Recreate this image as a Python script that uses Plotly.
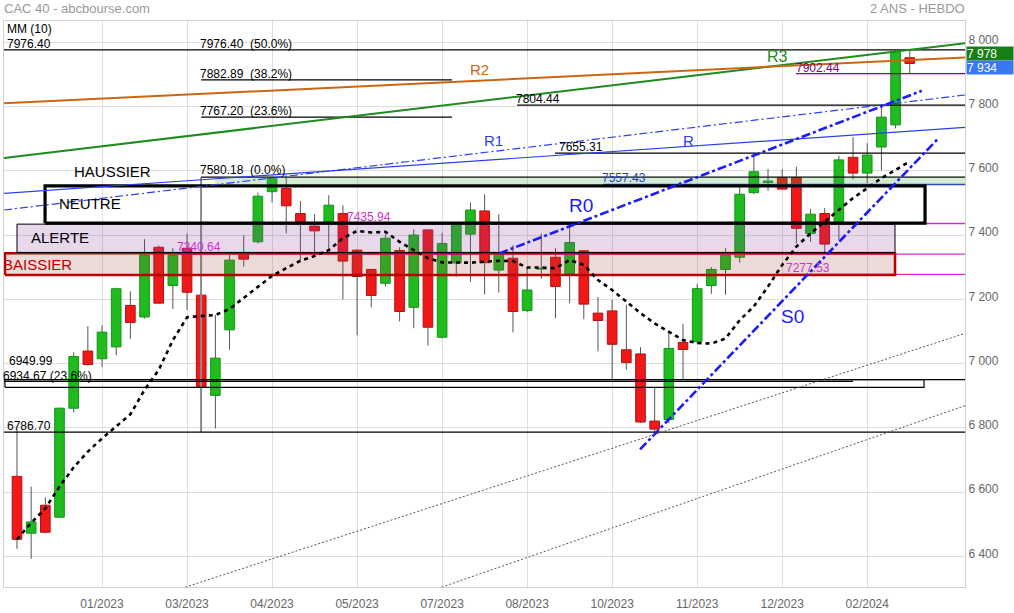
import plotly.graph_objects as go

# ---------------- data ----------------
week_index = list(range(64))
x_tick_weeks = [6, 12, 18, 24, 30, 36, 42, 48, 54, 60]
x_tick_labels = ["01/2023", "03/2023", "04/2023", "05/2023", "07/2023",
                 "08/2023", "10/2023", "11/2023", "12/2023", "02/2024"]
y_ticks = [6400, 6600, 6800, 7000, 7200, 7400, 7600, 7800, 8000]

opens = [6649, 6472, 6559, 6522, 6861, 7039, 7015, 7052, 7181, 7145,
         7362, 7243, 7359, 7213, 6901, 7105, 7341, 7379, 7535, 7545,
         7467, 7428, 7438, 7467, 7353, 7293, 7250, 7352, 7175, 7416,
         7082, 7313, 7403, 7475, 7291, 7328, 7165, 7294, 7331, 7279,
         7351, 7157, 7164, 7043, 7030, 6821, 6826, 7066, 7068, 7243,
         7293, 7331, 7532, 7564, 7579, 7579, 7405, 7467, 7438, 7642,
         7593, 7674, 7743, 7952]
highs = [6795, 6617, 6583, 6863, 7035, 7116, 7119, 7236, 7225, 7387,
         7367, 7359, 7405, 7219, 7151, 7338, 7400, 7532, 7580.18, 7578,
         7506, 7465, 7524, 7493, 7356, 7295, 7402, 7362, 7418, 7418,
         7407, 7437, 7501, 7527, 7465, 7369, 7300, 7405, 7359, 7431,
         7353, 7207, 7198, 7183, 7051, 6926, 7096, 7123, 7247, 7300,
         7359, 7550, 7655.31, 7606, 7605, 7613, 7481, 7484, 7647, 7705,
         7686, 7804.44, 7976.40, 7978]
lows = [6423, 6392, 6471, 6520, 6848, 6993, 6990, 7026, 7077, 7140,
        7186, 7170, 7167, 6864, 6798, 7043, 7302, 7374, 7502, 7405,
        7322, 7338, 7353, 7200, 7088, 7175, 7240, 7131, 7110, 7056,
        7078, 7270, 7254, 7215, 7221, 7097, 7160, 7264, 7141, 7188,
        7138, 7038, 6952, 6981, 6815, 6780, 6814, 6951, 7060, 7217,
        7214, 7314, 7527, 7538, 7541, 7374, 7379, 7343, 7385, 7574,
        7562, 7601, 7732, 7902.44]
closes = [6453, 6507, 6475, 6861, 7022, 6997, 7098, 7233, 7128, 7338,
          7188, 7338, 7222, 6928, 7017, 7322, 7325, 7521, 7578, 7491,
          7441, 7413, 7493, 7319, 7271, 7212, 7390, 7162, 7400, 7113,
          7374, 7434, 7478, 7314, 7343, 7162, 7229, 7297, 7240, 7377,
          7185, 7134, 7060, 7003, 6818, 6796, 7047, 7044, 7233, 7293,
          7338, 7527, 7597, 7568, 7543, 7421, 7465, 7372, 7634, 7593,
          7649, 7767, 7971, 7934]
ma10 = [6453, 6504, 6549, 6617, 6677, 6726, 6767, 6803, 6842, 6918,
        6980, 7073, 7144, 7148, 7151, 7170, 7205, 7240, 7273, 7297,
        7320, 7335, 7353, 7390, 7413, 7408, 7410, 7379, 7353, 7328,
        7315, 7315, 7314, 7317, 7320, 7319, 7299, 7299, 7297, 7322,
        7307, 7260, 7229, 7193, 7157, 7125, 7099, 7073, 7064, 7062,
        7078, 7135, 7178, 7240, 7307, 7364, 7405, 7441, 7479, 7515,
        7546, 7577, 7603, 7629]

# horizontal levels: value, first week, last week
level_values = [7976.40, 7882.89, 7767.20, 7580.18, 7557.43, 7804.44, 7655.31,
                7902.44, 7435.94, 7340.64, 7277.53, 6949.99, 6944.67, 6786.70]
level_start = [-0.92, 12.99, 12.99, 12.99, 41.36, 35.29, 37.97,
               54.98, 23.36, 11.36, 54.06, -0.92, -0.92, -0.92]
level_end = [66.9, 30.7, 30.7, 66.9, 66.9, 66.9, 66.9,
             66.9, 66.9, 66.9, 66.9, 66.9, 59.0, 66.9]

# zones
zone_names = ["BAISSIER", "ALERTE", "NEUTRE", "HAUSSIER", "FIBO"]
zone_low = [7276, 7346, 7437, 7557.43, 6926]
zone_high = [7343, 7434, 7553, 7580.18, 6949.99]
zone_start = [-0.85, 0.0, 1.98, 13.97, -0.85]
zone_end = [61.96, 61.96, 64.08, 66.9, 64.01]

# trend lines: (week, value) endpoints
trend_names = ["R3", "R2", "R1", "R1b", "R0", "S0", "T1", "T2"]
trend_w0 = [-0.92, -0.92, -0.92, -0.92, 34.04, 43.97, 11.6, 29.7]
trend_v0 = [7640, 7810, 7530, 7478, 7343, 6733, 6300, 6300]
trend_w1 = [66.9, 66.9, 66.9, 66.9, 63.85, 65.02, 66.9, 66.9]
trend_v1 = [7997, 7953, 7735, 7836, 7849, 7701, 7094, 6869]

fib_anchor_week = 12.99
fib_anchor_top = 7580.18
fib_anchor_bottom = 6786.70

last_high = 7978
last_close = 7934

FONT = "Arial, Liberation Sans, sans-serif"

fig = go.Figure()

# candle bodies
bases, heights, fills, edges = [], [], [], []
for o, c in zip(opens, closes):
    bases.append(min(o, c))
    heights.append(max(abs(c - o), 3))
    if c >= o:
        fills.append("#1fbb1f")
        edges.append("#159515")
    else:
        fills.append("#f01818")
        edges.append("#b51010")
fig.add_trace(go.Bar(x=week_index, y=heights, base=bases, width=0.68,
                     marker=dict(color=fills, line=dict(color=edges, width=1)),
                     hoverinfo="skip"))

# wicks
wx, wy = [], []
for i, o, h, l, c in zip(week_index, opens, highs, lows, closes):
    top, bot = max(o, c), min(o, c)
    if h > top:
        wx += [i, i, None]
        wy += [top, h, None]
    if l < bot:
        wx += [i, i, None]
        wy += [l, bot, None]
fig.add_trace(go.Scatter(x=wx, y=wy, mode="lines",
                         line=dict(color="#555555", width=1), hoverinfo="skip"))

# fib anchor vertical
fig.add_trace(go.Scatter(x=[fib_anchor_week, fib_anchor_week],
                         y=[fib_anchor_bottom, fib_anchor_top], mode="lines",
                         line=dict(color="#8a8a8a", width=2), hoverinfo="skip"))

# level lines
level_colors = ["#000000", "#000000", "#000000", "#000000", "#2a3fd0", "#000000", "#000000",
                "#800080", "#cc33cc", "#cc33cc", "#cc33cc", "#000000", "#000000", "#000000"]
for v, s, e, col in zip(level_values, level_start, level_end, level_colors):
    fig.add_trace(go.Scatter(x=[s, e], y=[v, v], mode="lines",
                             line=dict(color=col, width=1.3), hoverinfo="skip"))

# zones
zone_fill = ["rgba(160,70,60,0.2)", "rgba(140,60,160,0.2)", "rgba(0,0,0,0)",
             "rgba(60,160,60,0.22)", "rgba(0,0,0,0)"]
zone_line = ["#bb0000", "#000000", "#000000", "rgba(0,0,0,0)", "#000000"]
zone_lw = [2.5, 1, 3.2, 0, 1.2]
for n, lo, hi, s, e, fc, lc, lw in zip(zone_names, zone_low, zone_high, zone_start,
                                        zone_end, zone_fill, zone_line, zone_lw):
    fig.add_trace(go.Scatter(x=[s, e, e, s, s], y=[lo, lo, hi, hi, lo], mode="lines",
                             fill="toself", fillcolor=fc,
                             line=dict(color=lc, width=lw), hoverinfo="skip"))

# trend lines
trend_colors = ["#1e8c1e", "#cc6611", "#2a40ee", "#2a40ee", "#1a1aff", "#1a1aff",
                "#555555", "#555555"]
trend_widths = [2, 2, 1.2, 1.2, 2.6, 2.6, 1, 1]
trend_dash = ["solid", "solid", "solid", "8px,3px,2px,3px", "9px,3px,3px,3px",
              "9px,3px,3px,3px", "2px,2px", "2px,2px"]
for n, w0, v0, w1, v1, col, lw, d in zip(trend_names, trend_w0, trend_v0, trend_w1,
                                         trend_v1, trend_colors, trend_widths, trend_dash):
    fig.add_trace(go.Scatter(x=[w0, w1], y=[v0, v1], mode="lines",
                             line=dict(color=col, width=lw, dash=d), hoverinfo="skip"))

# moving average
fig.add_trace(go.Scatter(x=week_index, y=ma10, mode="lines",
                         line=dict(color="#000000", width=2.6, dash="4px,4px"),
                         hoverinfo="skip"))

# ---------------- annotations (positions in paper units from pixel layout) ----------------
PLOT_L, PLOT_R, PLOT_T, PLOT_B = 4, 965, 21, 587


def PX(px):
    return (px - PLOT_L) / (PLOT_R - PLOT_L)


def PY(py):
    return (PLOT_B - py) / (PLOT_B - PLOT_T)


ann = []


def text(t, px, py, color="#000000", size=12):
    ann.append(dict(x=PX(px), y=PY(py), xref="paper", yref="paper", text=t,
                    showarrow=False, xanchor="left", yanchor="middle",
                    font=dict(family=FONT, size=size, color=color)))


text("MM (10)", 5, 29)
text("7976.40", 5, 44)
text("7976.40  (50.0%)", 198, 44)
text("7882.89  (38.2%)", 198, 74)
text("7767.20  (23.6%)", 198, 111)
text("7580.18  (0.0%)", 198, 170)
text("HAUSSIER", 72, 171, size=15)
text("NEUTRE", 57, 204, size=15)
text("ALERTE", 29, 237, size=15)
text("BAISSIER", 1, 264, color="#bb0000", size=15)
text("7340.64", 175, 247, color="#cc33cc")
text("7435.94", 345, 217, color="#cc33cc")
text("7277.53", 784, 268, color="#cc33cc")
text("7902.44", 794, 68, color="#800080")
text("7804.44", 514, 99)
text("7655.31", 557, 147)
text("7557.43", 600, 178, color="#2a3fd0")
text("6934.67 (23.6%)", 1, 376)
text("6949.99", 7, 361)
text("6786.70", 5, 426)
text("R3", 765, 56, color="#1e8c1e", size=16)
text("R2", 468, 69, color="#cc6611", size=15)
text("R1", 482, 140, color="#2a40ee", size=15)
text("R", 681, 141, color="#2a40ee", size=15)
text("R0", 567, 205, color="#1a1aff", size=19)
text("S0", 779, 317, color="#1a1aff", size=19)

ann.append(dict(x=PX(2), y=PY(8), xref="paper", yref="paper", text="CAC 40 - abcbourse.com",
                showarrow=False, xanchor="left", yanchor="middle",
                font=dict(family=FONT, size=13, color="#999999")))
ann.append(dict(x=PX(967), y=PY(8), xref="paper", yref="paper", text="2 ANS - HEBDO",
                showarrow=False, xanchor="right", yanchor="middle",
                font=dict(family=FONT, size=13, color="#999999")))


def fmt(v):
    return f"{v:,.0f}".replace(",", " ")


ann.append(dict(x=1.0, y=PY(54), xref="paper", yref="paper", text=fmt(last_high),
                showarrow=False, xanchor="left", yanchor="middle", xshift=1,
                bgcolor="#168016", borderpad=0, width=46, height=13, align="left",
                font=dict(family=FONT, size=12, color="#ffffff")))
ann.append(dict(x=1.0, y=PY(67.5), xref="paper", yref="paper", text=fmt(last_close),
                showarrow=False, xanchor="left", yanchor="middle", xshift=1,
                bgcolor="#3a78f2", borderpad=0, width=46, height=13, align="left",
                font=dict(family=FONT, size=12, color="#ffffff")))

fig.update_layout(
    width=1014, height=613,
    margin=dict(l=PLOT_L, r=1014 - PLOT_R, t=PLOT_T, b=613 - PLOT_B, autoexpand=False),
    paper_bgcolor="#ffffff", plot_bgcolor="#ffffff",
    showlegend=False, annotations=ann,
    font=dict(family=FONT, size=12, color="#666666"),
    xaxis=dict(range=[-0.917, 66.9], tickvals=x_tick_weeks, ticktext=x_tick_labels,
               showgrid=True, gridcolor="#dedede", gridwidth=1, zeroline=False,
               showline=True, mirror=True, linecolor="#cfcfcf", ticks="",
               ticklabelstandoff=6, automargin=False,
               tickfont=dict(family=FONT, size=12, color="#666666")),
    yaxis=dict(range=[6304.5, 8066.3], side="right", tickvals=y_ticks,
               ticktext=[fmt(v) for v in y_ticks], automargin=False,
               ticklabelshift=-3,
               showgrid=True, gridcolor="#dedede", gridwidth=1, zeroline=False,
               showline=True, mirror=True, linecolor="#cfcfcf", ticks="",
               tickfont=dict(family=FONT, size=12, color="#666666")),
)

fig.write_html("out.html", config={"displayModeBar": False},
               post_script="document.body.style.margin='0';")
